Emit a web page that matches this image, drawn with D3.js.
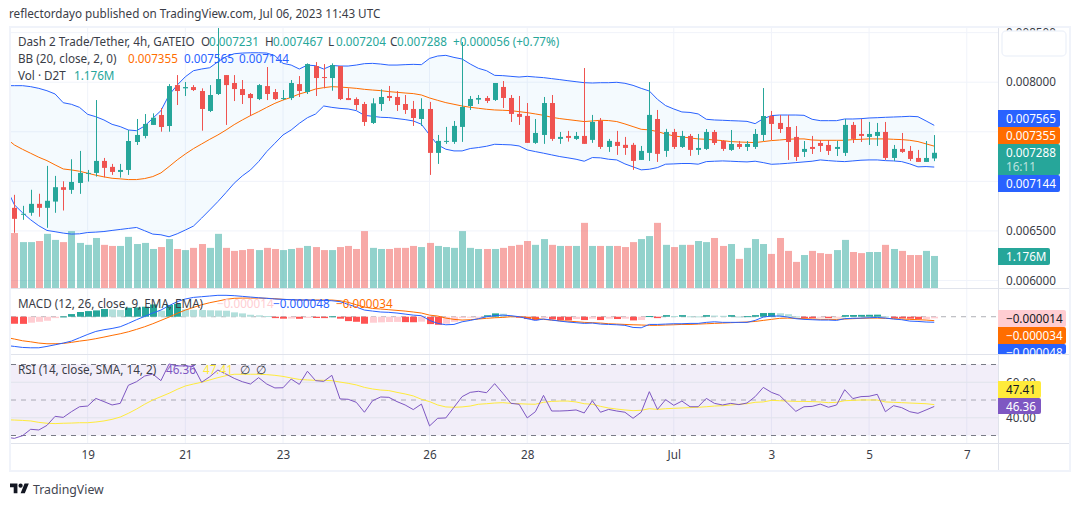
<!DOCTYPE html>
<html>
<head>
<meta charset="utf-8">
<script src="https://cdn.jsdelivr.net/npm/d3@7"></script>
<style>
  html, body { margin: 0; padding: 0; background: #fff; }
  svg { display: block; }
  text { font-family: "Noto Sans", "Open Sans", sans-serif; }
</style>
</head>
<body>
<svg id="chart" width="1080" height="506"></svg>
<script>
// prices in millionths (7231 = 0.007231), one entry per 4h bar
const open = [6733,6663,6683,6773,6733,6796,6941,6914,6984,7075,
  7085,7206,7146,7095,7115,7397,7458,7569,7669,7558,
  7971,7938,7951,7911,7710,7881,8072,7992,7931,7881,
  7830,7961,7901,7830,7840,7981,7901,8163,8052,8042,
  8163,7840,7830,7780,7589,7780,7861,7851,7780,7730,
  7629,7730,7287,7398,7398,7549,7760,7824,7841,7821,
  7952,7841,7680,7660,7388,7468,7790,7428,7458,7428,
  7458,7418,7609,7347,7398,7368,7368,7216,7287,7629,
  7307,7498,7347,7458,7317,7327,7498,7407,7317,7377,
  7347,7347,7468,7659,7589,7548,7448,7297,7347,7387,
  7367,7327,7287,7569,7478,7448,7458,7498,7236,7327,
  7307,7236,7196,7231];
const close = [6622,6673,6773,6733,6804,6941,6914,6994,7085,7085,
  7206,7136,7095,7115,7407,7468,7579,7642,7548,7961,
  7911,7951,7921,7730,7871,8032,7971,7931,7871,7840,
  7971,7881,7830,7840,7992,7911,8183,8042,8042,8173,
  7830,7820,7770,7599,7787,7851,7841,7770,7720,7639,
  7730,7287,7408,7408,7559,7750,7831,7841,7811,7992,
  7841,7680,7650,7388,7488,7790,7428,7448,7438,7458,
  7378,7599,7347,7408,7357,7337,7206,7307,7670,7277,
  7498,7347,7458,7317,7337,7498,7387,7327,7377,7347,
  7377,7478,7659,7579,7528,7397,7246,7327,7327,7357,
  7307,7347,7569,7428,7458,7478,7498,7236,7327,7297,
  7226,7196,7236,7288];
const high = [6864,6753,6915,6875,7156,7055,7001,7223,7307,7115,
  7820,7236,7176,7176,7518,7629,7679,7686,7740,7981,
  8072,8002,7971,7938,7971,8556,8072,8072,8022,7891,
  7981,8153,7931,7921,8022,8062,8190,8203,8183,8190,
  8163,7938,7847,7801,7838,7928,7962,7911,7871,7811,
  7838,7801,7468,7549,7609,8405,7861,7871,7861,7992,
  8012,7871,7861,7790,7629,7851,7871,7498,7509,7498,
  8143,7670,7639,7428,7509,7448,7388,7357,8002,7720,
  7529,7529,7509,7478,7478,7528,7518,7417,7518,7407,
  7407,7528,7941,7710,7669,7669,7558,7407,7458,7417,
  7417,7407,7629,7599,7629,7599,7589,7599,7367,7488,
  7357,7317,7407,7467];
const low = [6481,6612,6653,6643,6532,6683,6706,6874,6874,6998,
  7048,7041,7065,7038,7065,7367,7434,7569,7501,7501,
  7770,7861,7911,7511,7699,7871,7569,7810,7780,7659,
  7820,7820,7820,7820,7820,7851,7881,7861,7938,7914,
  7820,7820,7720,7559,7579,7710,7811,7710,7680,7559,
  7559,7065,7176,7378,7378,7398,7720,7780,7790,7811,
  7740,7599,7569,7388,7378,7378,7408,7378,7401,7418,
  7378,7388,7327,7297,7267,7267,7116,7216,7206,7196,
  7247,7327,7337,7257,7267,7317,7367,7307,7307,7327,
  7307,7327,7407,7417,7488,7216,7206,7246,7276,7297,
  7266,7256,7256,7387,7397,7367,7357,7216,7206,7287,
  7206,7196,7196,7204];
// volume in millions
const volume = [2.01,1.68,1.68,1.72,1.98,1.76,1.68,2.08,1.65,1.58,
  1.83,1.58,1.54,1.54,1.87,1.61,1.65,1.43,1.50,1.79,
  1.43,1.39,1.47,1.61,1.47,1.98,1.47,1.36,1.39,1.43,
  1.39,1.47,1.43,1.39,1.43,1.47,1.54,1.50,1.39,1.39,
  1.50,1.54,1.43,2.08,1.47,1.43,1.43,1.47,1.47,1.54,
  1.50,1.65,1.54,1.50,1.47,2.08,1.47,1.43,1.43,1.43,
  1.47,1.54,1.58,1.72,1.58,1.79,1.58,1.54,1.54,1.54,
  2.38,1.54,1.54,1.54,1.54,1.50,1.68,1.79,1.90,2.38,
  1.58,1.50,1.58,1.58,1.72,1.68,1.83,1.54,1.61,1.07,
  1.47,1.79,1.61,1.25,1.83,1.36,0.96,1.21,1.36,1.28,
  1.25,1.39,1.76,1.32,1.28,1.32,1.32,1.58,1.43,1.36,
  1.21,1.21,1.36,1.176];

// the line series start one bar earlier, that bar is cut by the pane edge
const bbUpper = [7965,7965,7965,7955,7938,7914,7881,7793,7777,7746,7676,
  7652,7619,7575,7552,7518,7511,7558,7636,7713,7871,
  7971,8055,8116,8133,8146,8206,8257,8287,8294,8297,
  8297,8294,8267,8190,8173,8133,8173,8166,8133,8169,
  8163,8163,8173,8187,8190,8183,8173,8173,8177,8180,
  8177,8240,8264,8271,8250,8234,8183,8140,8116,8069,
  8066,8059,8052,8059,8052,8046,8036,8026,8015,8005,
  7995,7992,7995,7995,7999,7989,7968,7938,7911,7827,
  7764,7730,7700,7695,7680,7626,7619,7616,7612,7609,
  7605,7582,7632,7663,7669,7669,7669,7666,7626,7612,
  7612,7612,7629,7629,7632,7639,7642,7646,7649,7652,
  7656,7652,7609,7565];
const bbBasis = [7434,7367,7323,7283,7243,7209,7166,7125,7115,7102,7082,
  7062,7045,7031,7025,7018,7018,7028,7048,7085,7149,
  7216,7276,7330,7377,7424,7468,7518,7572,7619,7663,
  7703,7746,7787,7820,7847,7881,7904,7931,7945,7955,
  7951,7945,7938,7928,7921,7915,7905,7898,7891,7885,
  7871,7841,7817,7794,7777,7760,7747,7737,7727,7720,
  7717,7713,7703,7693,7680,7666,7646,7633,7623,7613,
  7603,7609,7616,7613,7603,7579,7552,7525,7519,7502,
  7478,7458,7448,7438,7428,7424,7417,7411,7401,7397,
  7394,7391,7401,7411,7417,7424,7428,7428,7417,7414,
  7414,7414,7414,7421,7424,7428,7428,7428,7424,7421,
  7414,7401,7378,7355];
const bbLower = [6935,6763,6683,6612,6552,6505,6492,6478,6468,6471,6484,
  6488,6494,6505,6515,6525,6535,6502,6468,6461,6441,
  6471,6509,6549,6629,6712,6796,6887,6981,7055,7115,
  7199,7300,7384,7468,7518,7585,7642,7679,7760,7746,
  7736,7730,7713,7666,7656,7646,7643,7633,7623,7609,
  7576,7468,7368,7324,7307,7307,7331,7341,7354,7374,
  7371,7368,7357,7317,7300,7284,7267,7250,7237,7223,
  7203,7240,7237,7223,7216,7176,7146,7116,7122,7139,
  7173,7176,7180,7180,7173,7199,7203,7206,7203,7199,
  7196,7203,7189,7172,7176,7182,7189,7196,7203,7216,
  7209,7203,7199,7206,7213,7216,7216,7209,7206,7199,
  7176,7146,7149,7144];

const macdLine = [-250,-258,-267,-270,-270,-258,-244,-229,-212,-183,-154,
  -128,-113,-102,-87,-58,-26,3,32,58,96,
  131,154,168,174,180,186,186,183,177,171,
  165,160,154,151,148,145,145,142,142,139,
  131,107,84,58,49,41,38,32,23,14,
  9,-32,-58,-70,-67,-44,-32,-17,0,9,
  14,9,0,-17,-32,-20,-29,-38,-46,-52,
  -58,-55,-64,-67,-70,-75,-93,-96,-67,-67,
  -64,-61,-61,-58,-58,-49,-44,-49,-49,-49,
  -49,-32,-3,6,6,-3,-17,-23,-26,-29,
  -29,-32,-17,-14,-12,-9,-6,-12,-20,-26,
  -38,-41,-46,-48];
const macdSignal = [-180,-194,-209,-218,-229,-235,-235,-232,-223,-212,-203,
  -191,-177,-162,-148,-131,-110,-87,-61,-32,-3,
  29,58,81,104,122,136,151,160,162,162,
  162,160,157,151,148,145,145,145,145,145,
  139,125,104,84,72,67,61,55,49,41,
  32,14,6,-12,-23,-29,-26,-20,-14,-9,
  -6,0,0,-6,-14,-23,-29,-35,-38,-43,
  -49,-52,-55,-61,-64,-67,-70,-72,-75,-75,
  -72,-70,-67,-67,-64,-61,-58,-55,-52,-49,
  -46,-41,-32,-23,-14,-12,-14,-17,-20,-23,
  -23,-23,-20,-17,-14,-12,-12,-14,-17,-20,
  -23,-26,-29,-34];
const macdHist = [-61,-62,-52,-44,-35,-12,3,23,41,49,
  55,67,64,58,78,81,87,107,52,102,
  113,64,60,58,56,54,52,38,29,17,
  12,6,-12,-17,-16,-18,-10,-11,-12,4,
  -17,-38,-44,-61,-52,-49,-46,-45,-47,-48,
  -43,-64,-70,-61,-44,-12,-6,-1,13,29,
  26,6,-1,-20,-29,-12,-23,-29,-32,-20,
  -29,-17,-29,-17,-20,-17,-32,-29,6,-12,
  14,6,14,4,3,14,10,8,14,2,
  5,14,32,33,30,22,3,-12,-13,-6,
  -12,-4,14,15,16,17,18,3,-12,-14,
  -17,-22,-20,-14];

const rsiLine = [29.0,28.4,29.9,33.5,33.1,35.7,40.8,40.2,43.4,46.2,46.6,
  50.9,49.1,47.2,48.1,58.3,60.3,63.5,64.6,60.9,70.3,
  69.2,69.2,68.8,60.0,63.1,66.9,64.6,62.2,60.3,59.0,
  62.6,59.0,56.8,56.9,61.8,58.8,66.2,60.9,60.5,63.9,
  50.6,50.4,48.7,43.1,49.6,51.7,51.5,49.1,47.2,44.6,
  47.7,35.4,39.7,39.9,45.9,51.9,54.3,54.9,54.1,59.2,
  53.8,48.1,47.6,39.9,43.4,52.6,43.8,43.8,44.0,44.4,
  42.7,49.6,43.1,44.7,43.8,43.1,39.7,43.1,54.7,44.7,
  50.2,47.0,49.4,46.2,46.2,50.9,48.1,47.2,48.1,47.4,
  48.3,51.9,57.1,54.3,52.6,48.1,43.6,46.2,46.4,47.7,
  45.9,47.2,55.8,50.8,51.9,52.1,53.2,43.4,46.8,45.7,
  43.4,42.5,44.4,46.36];
const rsiMa = [38.9,38.7,38.5,38.2,37.4,36.9,36.7,36.9,37.0,37.2,37.2,
  37.6,38.2,39.1,40.4,42.5,44.9,47.6,50.0,51.9,53.8,
  56.0,57.9,59.0,60.0,61.3,62.6,63.7,64.5,64.5,64.5,
  64.5,64.3,63.9,63.3,62.4,61.6,61.3,61.1,61.1,60.9,
  60.1,59.4,58.5,57.1,56.2,55.6,55.3,54.3,53.4,52.3,
  50.4,49.1,47.2,46.1,45.9,46.1,46.6,47.6,47.9,48.3,
  48.5,48.1,47.9,47.7,47.6,48.7,49.2,49.4,49.4,48.9,
  47.9,47.6,46.4,45.5,44.9,44.4,44.0,44.2,45.1,44.7,
  45.1,45.3,45.5,45.7,45.9,46.2,46.6,46.8,47.2,47.6,
  47.9,48.7,48.9,49.8,49.6,49.4,49.2,49.2,49.1,48.9,
  48.5,48.7,49.6,49.8,50.0,50.0,50.0,48.9,48.7,48.5,
  48.3,48.1,47.9,47.41];

// bar index of each date label
const dayTicks = [9, 21, 33, 51, 63, 81, 93, 105, 117];
const dayLabels = ['19', '21', '23', '26', '28', 'Jul', '3', '5', '7'];
const priceGrid = [6000, 6500, 7000, 7500, 8000, 8500];
// 0.007000 and 0.007500 sit under the value tags, so only these get a label
const priceTicks = [6000, 6500, 8000, 8500];
const rsiTicks = [40, 60];
const rsiLevels = [70, 50, 30];

const UP = '#26a69a', DOWN = '#ef5350';
const BLUE = '#2962ff', ORANGE = '#ff6d00', PURPLE = '#7e57c2', YELLOW = '#ffeb3b';
const GRID = '#f0f3fa', SEP = '#e0e3eb', INK = '#3a3d47';
const FONT = 11.7;

const paneLeft = 11, paneRight = 998, frameRight = 1069;
const mainTop = 28, mainBottom = 288, macdBottom = 354, rsiBottom = 443, frameBottom = 470;

const svg = d3.select('#chart');

// Scales
const x = d3.scaleLinear().domain([0, 117]).range([14.4, 966.8]);
const yPrice = d3.scaleLinear().domain([6000, 8000]).range([280.5, 82.2]);
const yVol = d3.scaleLinear().domain([0, 2.4]).range([288.3, 222.3]);
const yMacd = d3.scaleLinear().domain([-324, 241]).range([354, 289]);
const yRsi = d3.scaleLinear().domain([30, 70]).range([435.5, 364.5]);

// Clip every pane
const defs = svg.append('defs');
function clip(id, top, bottom) {
  defs.append('clipPath').attr('id', id).append('rect')
    .attr('x', paneLeft).attr('y', top)
    .attr('width', paneRight - paneLeft).attr('height', bottom - top);
}
clip('clip-main', mainTop - 2, mainBottom);
clip('clip-macd', mainBottom + 1, macdBottom);
clip('clip-rsi', macdBottom + 1, rsiBottom);

// Vertical grid through all panes
svg.append('g').selectAll('line').data(dayTicks).enter().append('line')
  .attr('x1', d => x(d)).attr('x2', d => x(d))
  .attr('y1', mainTop).attr('y2', rsiBottom)
  .attr('stroke', GRID);

// Horizontal price grid
svg.append('g').attr('clip-path', 'url(#clip-main)')
  .selectAll('line').data(priceGrid).enter().append('line')
  .attr('x1', paneLeft).attr('x2', paneRight)
  .attr('y1', d => yPrice(d)).attr('y2', d => yPrice(d))
  .attr('stroke', GRID);

const px = i => Math.round(x(i));
const barIdx = d3.range(open.length);

// Volume
const main = svg.append('g').attr('clip-path', 'url(#clip-main)');
main.append('g').selectAll('rect').data(barIdx).enter().append('rect')
  .attr('x', i => px(i) - 3).attr('width', 7)
  .attr('y', i => yVol(volume[i]))
  .attr('height', i => yVol(0) - yVol(volume[i]))
  .attr('fill', i => close[i] >= open[i] ? UP : DOWN)
  .attr('opacity', 0.5);

// Bollinger bands
const lineOf = (y) => d3.line().x((d, i) => x(i - 1)).y(d => y(d));
main.append('path').datum(bbUpper)
  .attr('d', d3.area().x((d, i) => x(i - 1))
    .y0((d, i) => yPrice(bbLower[i])).y1(d => yPrice(d)))
  .attr('fill', '#2196f3').attr('opacity', 0.05);
[[bbUpper, BLUE], [bbLower, BLUE], [bbBasis, ORANGE]].forEach(([vals, col]) => {
  main.append('path').datum(vals)
    .attr('d', lineOf(yPrice))
    .attr('fill', 'none').attr('stroke', col).attr('stroke-width', 1);
});

// Candles
const candles = main.append('g').selectAll('g').data(barIdx).enter().append('g')
  .attr('fill', i => close[i] >= open[i] ? UP : DOWN);
candles.append('rect')
  .attr('x', i => px(i)).attr('width', 1)
  .attr('y', i => yPrice(high[i]))
  .attr('height', i => yPrice(low[i]) - yPrice(high[i]));
candles.append('rect')
  .attr('x', i => px(i) - 2).attr('width', 5)
  .attr('y', i => yPrice(Math.max(open[i], close[i])))
  .attr('height', i => Math.max(1, Math.abs(yPrice(open[i]) - yPrice(close[i]))));

// MACD pane
const macd = svg.append('g').attr('clip-path', 'url(#clip-macd)');
macd.append('line')
  .attr('x1', paneLeft).attr('x2', paneRight)
  .attr('y1', yMacd(0)).attr('y2', yMacd(0))
  .attr('stroke', '#787b86').attr('stroke-opacity', 0.6).attr('stroke-dasharray', '5,5');
function histColor(i) {
  const v = macdHist[i], prev = i > 0 ? macdHist[i - 1] : v - (v >= 0 ? 1 : -1);
  if (v >= 0) return v > prev ? '#26a69a' : '#b2dfdb';
  return v < prev ? '#ff5252' : '#ffcdd2';
}
macd.append('g').selectAll('rect').data(barIdx).enter().append('rect')
  .attr('x', i => px(i) - 3).attr('width', 7)
  .attr('y', i => Math.min(yMacd(0), yMacd(macdHist[i])))
  .attr('height', i => Math.max(1, Math.abs(yMacd(macdHist[i]) - yMacd(0))))
  .attr('fill', histColor);
[[macdSignal, '#ff6d00'], [macdLine, BLUE]].forEach(([vals, col]) => {
  macd.append('path').datum(vals)
    .attr('d', lineOf(yMacd))
    .attr('fill', 'none').attr('stroke', col).attr('stroke-width', 1);
});

// RSI pane
const rsi = svg.append('g').attr('clip-path', 'url(#clip-rsi)');
rsi.append('rect')
  .attr('x', paneLeft).attr('width', paneRight - paneLeft)
  .attr('y', yRsi(70)).attr('height', yRsi(30) - yRsi(70))
  .attr('fill', PURPLE).attr('opacity', 0.1);
rsi.append('g').selectAll('line').data(rsiTicks).enter().append('line')
  .attr('x1', paneLeft).attr('x2', paneRight)
  .attr('y1', d => yRsi(d)).attr('y2', d => yRsi(d))
  .attr('stroke', '#e0e3eb');
rsi.append('g').selectAll('line').data(rsiLevels).enter().append('line')
  .attr('x1', paneLeft).attr('x2', paneRight)
  .attr('y1', d => yRsi(d)).attr('y2', d => yRsi(d))
  .attr('stroke', '#787b86')
  .attr('stroke-opacity', d => d === 50 ? 0.6 : 1)
  .attr('stroke-dasharray', '5,5');
[[rsiMa, YELLOW], [rsiLine, PURPLE]].forEach(([vals, col]) => {
  rsi.append('path').datum(vals)
    .attr('d', lineOf(yRsi))
    .attr('fill', 'none').attr('stroke', col).attr('stroke-width', 1);
});

// Frame and pane separators
svg.append('rect')
  .attr('x', 10).attr('y', 27).attr('width', 1060).attr('height', 444)
  .attr('fill', 'none').attr('stroke', GRID).attr('stroke-width', 2);
[mainBottom + 0.5, macdBottom + 0.5, rsiBottom + 0.5].forEach(y => {
  svg.append('line').attr('x1', paneLeft).attr('x2', frameRight)
    .attr('y1', y).attr('y2', y).attr('stroke', SEP);
});
svg.append('line').attr('x1', paneRight + 0.5).attr('x2', paneRight + 0.5)
  .attr('y1', mainTop).attr('y2', frameBottom).attr('stroke', SEP);

// Axes
const axisFont = sel => sel.attr('font-family', '"Noto Sans", sans-serif').attr('font-size', FONT);
const priceAxis = svg.append('g')
  .attr('transform', `translate(${paneRight},0)`)
  .call(d3.axisRight(yPrice).tickValues(priceTicks).tickSize(0).tickPadding(8)
    .tickFormat(d => (d / 1e6).toFixed(6)))
  .call(axisFont);
const rsiAxis = svg.append('g')
  .attr('transform', `translate(${paneRight},0)`)
  .call(d3.axisRight(yRsi).tickValues(rsiTicks).tickSize(0).tickPadding(8)
    .tickFormat(d => d.toFixed(2)))
  .call(axisFont);
const timeAxis = svg.append('g')
  .attr('transform', `translate(0,${rsiBottom})`)
  .call(d3.axisBottom(x).tickValues(dayTicks).tickSize(0).tickPadding(8)
    .tickFormat((d, i) => dayLabels[i]))
  .call(axisFont);
[priceAxis, rsiAxis, timeAxis].forEach(a => {
  a.select('.domain').remove();
  a.selectAll('text').attr('fill', INK);
});

// Empty rounded box on top of the price scale
svg.append('rect')
  .attr('x', 1002).attr('y', 31).attr('width', 64).attr('height', 25).attr('rx', 4)
  .attr('fill', '#fff').attr('stroke', GRID).attr('stroke-width', 1.5);

// Value tags on the scales
function tag(top, h, w, fill, label, color) {
  svg.append('path')
    .attr('d', `M${paneRight} ${top}h${w - 2}a2 2 0 0 1 2 2v${h - 4}a2 2 0 0 1 -2 2h${-(w - 2)}z`)
    .attr('fill', fill);
  svg.append('text').attr('x', 1006).attr('y', top + 13)
    .attr('font-size', FONT).attr('fill', color).text(label);
}
tag(110, 17, 62, BLUE, '0.007565', '#fff');
tag(127, 17, 62, ORANGE, '0.007355', '#fff');
tag(144, 31, 62, UP, '0.007288', '#fff');
svg.append('text').attr('x', 1006).attr('y', 171)
  .attr('font-size', FONT).attr('fill', '#fff').attr('fill-opacity', 0.7).text('16:11');
tag(175, 17, 62, BLUE, '0.007144', '#fff');
tag(248, 17, 52, UP, '1.176M', '#fff');
tag(310, 17, 68, '#ffcdd2', '\u22120.000014', '#131722');
tag(327, 17, 68, ORANGE, '\u22120.000034', '#fff');
tag(344, 10, 68, BLUE, '\u22120.000048', '#fff');
tag(381, 17, 43, YELLOW, '47.41', '#131722');
tag(398, 16, 43, PURPLE, '46.36', '#fff');

// Legends
function legend(y, items) {
  items.forEach(([tx, label, color]) => {
    svg.append('text').attr('x', tx).attr('y', y)
      .attr('font-size', FONT).attr('fill', color).text(label);
  });
}
legend(46, [[18, 'Dash 2 Trade/Tether, 4h, GATEIO', INK],
  [201, 'O', INK], [209, '0.007231', UP],
  [265, 'H', INK], [273, '0.007467', UP],
  [328, 'L', INK], [336, '0.007204', UP],
  [390, 'C', INK], [397, '0.007288', UP],
  [453, '+0.000056 (+0.77%)', UP]]);
legend(63, [[18, 'BB (20, close, 2, 0)', INK],
  [128, '0.007355', ORANGE], [184, '0.007565', BLUE], [239, '0.007144', BLUE]]);
legend(80, [[18, 'Vol \u00b7 D2T', INK], [74, '1.176M', UP]]);
legend(308, [[18, 'MACD (12, 26, close, 9, EMA, EMA)', INK],
  [217, '\u22120.000014', '#ffcdd2'], [273, '\u22120.000048', BLUE], [336, '\u22120.000034', ORANGE]]);
legend(374, [[18, 'RSI (14, close, SMA, 14, 2)', INK],
  [166, '46.36', PURPLE], [203, '47.41', YELLOW], [240, '\u2205', INK], [256, '\u2205', INK]]);

// Header and footer
svg.append('text').attr('x', 9).attr('y', 18).attr('font-size', FONT).attr('fill', INK)
  .text('reflectordayo published on TradingView.com, Jul 06, 2023 11:43 UTC');
const logo = svg.append('g').attr('transform', 'translate(10,481.5) scale(0.53)').attr('fill', '#131722');
logo.append('path').attr('d', 'M14 22H7V11H0V4h14v18zM28 22h-8l7.5-18h8L28 22z');
logo.append('circle').attr('cx', 20).attr('cy', 8).attr('r', 4);
svg.append('text').attr('x', 33).attr('y', 494).attr('font-size', 12.3).attr('fill', '#434651')
  .text('TradingView');
</script>
</body>
</html>
